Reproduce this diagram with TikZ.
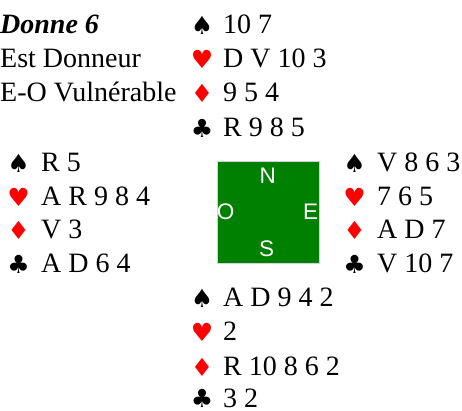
\documentclass[tikz,border=0pt]{standalone}
\usepackage{fontspec}
\setmainfont{Liberation Serif}
\newfontfamily\suitfont{DejaVu Sans}
\newfontfamily\dirfont{Liberation Sans}
\begin{document}
\begin{tikzpicture}[x=1pt,y=-1pt,
    hand/.style={anchor=base west,inner sep=0pt,font=\fontsize{28}{30}\selectfont},
    suit/.style={anchor=base,inner sep=0pt,yshift=-1pt,font=\suitfont\fontsize{25}{26}\selectfont},
    dir/.style={anchor=base,inner sep=0pt,text=white,font=\dirfont\fontsize{22.5}{23}\selectfont}]
    \useasboundingbox (0,0) rectangle (462,410);
    % deal info
    \node[hand,font=\fontsize{28}{30}\selectfont\bfseries\itshape] (donne) at (0,33) {Donne 6};
    \node[hand] (dealer) at (0,67.5) {Est Donneur};
    \node[hand] (vul) at (0,101.5) {E-O Vulnérable};
    % north
    \node[suit] (nS) at (202,33) {♠};
    \node[suit,text=red] (nH) at (202,67.5) {♥};
    \node[suit,text=red] (nD) at (202,101.5) {♦};
    \node[suit] (nC) at (202,136) {♣};
    \node[hand] (nSc) at (223,33) {10 7};
    \node[hand] (nHc) at (223,67.5) {D V 10 3};
    \node[hand] (nDc) at (223,101.5) {9 5 4};
    \node[hand] (nCc) at (223,136) {R 9 8 5};
    % west
    \node[suit] (wS) at (18.5,171.5) {♠};
    \node[suit,text=red] (wH) at (18.5,205) {♥};
    \node[suit,text=red] (wD) at (18.5,238.5) {♦};
    \node[suit] (wC) at (18.5,272) {♣};
    \node[hand] (wSc) at (41,171.5) {R 5};
    \node[hand] (wHc) at (41,205) {A R 9 8 4};
    \node[hand] (wDc) at (41,238.5) {V 3};
    \node[hand] (wCc) at (41,272) {A D 6 4};
    % east
    \node[suit] (eS) at (354.5,171.5) {♠};
    \node[suit,text=red] (eH) at (354.5,205) {♥};
    \node[suit,text=red] (eD) at (354.5,238.5) {♦};
    \node[suit] (eC) at (354.5,272) {♣};
    \node[hand] (eSc) at (377,171.5) {V 8 6 3};
    \node[hand] (eHc) at (377,205) {7 6 5};
    \node[hand] (eDc) at (377,238.5) {A D 7};
    \node[hand] (eCc) at (377,272) {V 10 7};
    % south
    \node[suit] (sS) at (202,306.5) {♠};
    \node[suit,text=red] (sH) at (202,340.5) {♥};
    \node[suit,text=red] (sD) at (202,375) {♦};
    \node[suit] (sC) at (202,406.5) {♣};
    \node[hand] (sSc) at (223,306.5) {A D 9 4 2};
    \node[hand] (sHc) at (223,340.5) {2};
    \node[hand] (sDc) at (223,375) {R 10 8 6 2};
    \node[hand] (sCc) at (223,407) {3 2};
    % table
    \node[draw=gray!35,line width=0.8pt,fill=green!50!black,minimum size=102pt,inner sep=0pt] (table) at (268,212) {};
    \node[dir] (N) at (267.8,183.5) {N};
    \node[dir] (O) at (225.5,219) {O};
    \node[dir] (E) at (310.5,219) {E};
    \node[dir] (S) at (266.5,256.5) {S};
  \end{tikzpicture}
\end{document}
